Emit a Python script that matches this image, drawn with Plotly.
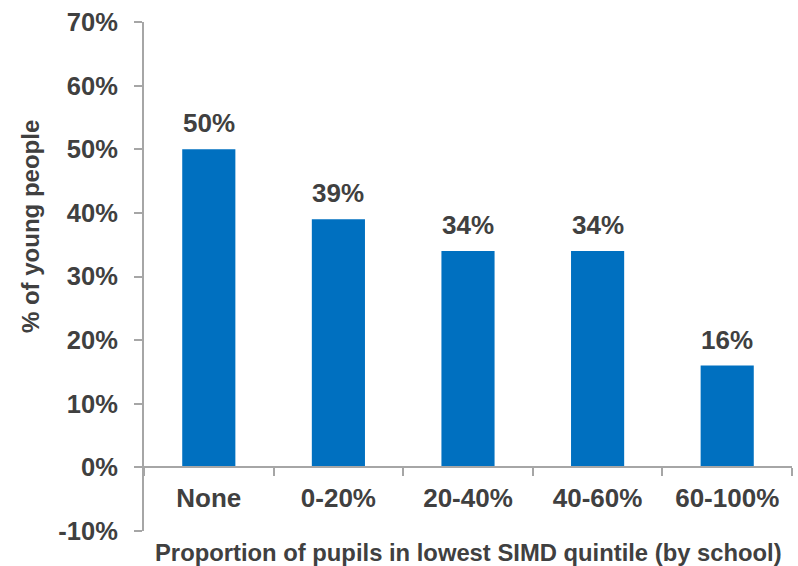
import plotly.graph_objects as go

# Share of young people by proportion of pupils in the lowest SIMD quintile
categories = ["None", "0-20%", "20-40%", "40-60%", "60-100%"]
values = [0.50, 0.39, 0.34, 0.34, 0.16]
y_ticks = [-0.1, 0.0, 0.1, 0.2, 0.3, 0.4, 0.5, 0.6, 0.7]
y_tick_labels = ["-10%", "0%", "10%", "20%", "30%", "40%", "50%", "60%", "70%"]

FONT = "Liberation Sans, Arial, sans-serif"
TEXT = "#404040"
AXIS = "#A6A6A6"
BAR = "#0070C0"

fig = go.Figure()
fig.add_trace(go.Bar(
    x=categories,
    y=values,
    marker=dict(color=BAR, line=dict(width=0)),
    width=0.41,
    hoverinfo="skip",
))

# value labels above each bar
for c, v in zip(categories, values):
    fig.add_annotation(
        x=c, y=v, xref="x", yref="y",
        text=f"{v:.0%}", showarrow=False,
        yanchor="bottom", yshift=9,
        font=dict(family=FONT, size=26, color=TEXT, weight="bold"),
    )

fig.add_annotation(
    xref="paper", yref="paper", x=0.5, y=-0.043,
    text="Proportion of pupils in lowest SIMD quintile (by school)",
    showarrow=False, xanchor="center", yanchor="middle",
    font=dict(family=FONT, size=23.8, color=TEXT, weight="bold"),
)
fig.add_annotation(
    xref="paper", yref="paper", x=-0.176, y=0.599,
    text="% of young people", textangle=-90,
    showarrow=False, xanchor="center", yanchor="middle",
    font=dict(family=FONT, size=24, color=TEXT, weight="bold"),
)

fig.update_layout(
    width=798, height=566,
    margin=dict(l=144, r=6, t=22, b=35),
    paper_bgcolor="white", plot_bgcolor="white",
    showlegend=False,
    bargap=0.59,
    xaxis=dict(
        type="category",
        anchor="free", position=0.125,
        showline=True, linecolor=AXIS, linewidth=2,
        ticks="outside", tickson="boundaries", ticklen=8,
        tickcolor=AXIS, tickwidth=2,
        showgrid=False, zeroline=False,
        ticklabelstandoff=7,
        tickfont=dict(family=FONT, size=26, color=TEXT, weight="bold"),
        fixedrange=True,
    ),
    yaxis=dict(
        range=[-0.1, 0.7],
        tickvals=y_ticks, ticktext=y_tick_labels,
        showline=True, linecolor=AXIS, linewidth=2,
        ticks="outside", ticklen=8, tickcolor=AXIS, tickwidth=2,
        showgrid=False, zeroline=False,
        ticklabelstandoff=11,
        tickfont=dict(family=FONT, size=25.5, color=TEXT, weight="bold"),
        fixedrange=True,
    ),
)

fig.write_html("out.html")
